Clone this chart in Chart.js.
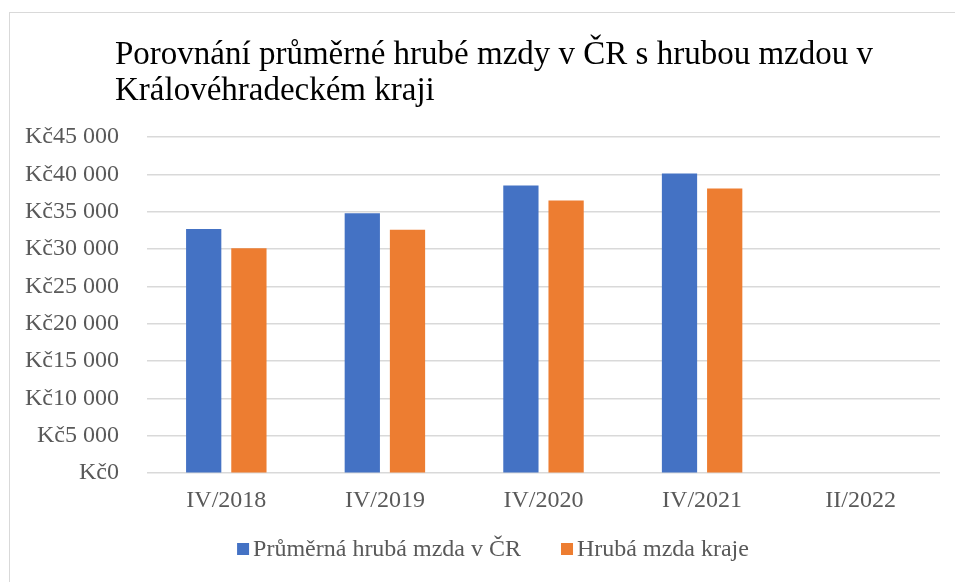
<!DOCTYPE html>
<html>
<head>
<meta charset="utf-8">
<script src="https://cdn.jsdelivr.net/npm/chart.js@4/dist/chart.umd.min.js"></script>
<style>
  html, body { margin: 0; padding: 0; background: #fff; }
  #wrap { position: relative; width: 955px; height: 582px; overflow: hidden; }
  #frame { position: absolute; left: 9px; top: 12px; width: 960px; height: 590px; border: 1px solid #d9d9d9; box-sizing: border-box; }
  #title { position: absolute; left: 115px; top: 35px; font-family: "Liberation Serif", "Times New Roman", serif; font-size: 33px; line-height: 36px; color: #000; }
  #chart { position: absolute; left: 0; top: 0; }
</style>
</head>
<body>
<div id="wrap">
  <div id="frame"></div>
  <canvas id="chart" width="955" height="582"></canvas>
  <div id="title">Porovnání průměrné hrubé mzdy v ČR s hrubou mzdou v<br>Královéhradeckém kraji</div>
</div>
<script>
// data
const categories = ["IV/2018", "IV/2019", "IV/2020", "IV/2021", "II/2022"];
const prumernaCR = [32700, 34800, 38500, 40100, null];
const mzdaKraje = [30100, 32600, 36500, 38100, null];
const seriesNames = ["Průměrná hrubá mzda v ČR", "Hrubá mzda kraje"];

function formatKc(v) {
  return "Kč" + String(v).replace(/\B(?=(\d{3})+(?!\d))/g, " ");
}

const serif = "'Liberation Serif', 'Times New Roman', serif";
const grey = "#595959";

// legend drawn like Excel: small square, tight gap to text, wide gap between items
const excelLegend = {
  id: "excelLegend",
  afterDraw(chart) {
    const ctx = chart.ctx;
    const sets = chart.data.datasets;
    const box = 12, gapText = 4, gapItem = 40, cy = 549;
    ctx.save();
    ctx.font = "24px " + serif;
    const widths = sets.map((d) => ctx.measureText(d.label).width);
    let total = 0;
    widths.forEach((w, i) => { total += box + gapText + w + (i ? gapItem : 0); });
    let x = 493 - total / 2;
    ctx.textBaseline = "middle";
    sets.forEach((d, i) => {
      ctx.fillStyle = d.backgroundColor;
      ctx.fillRect(x, cy - box / 2, box, box);
      x += box + gapText;
      ctx.fillStyle = grey;
      ctx.fillText(d.label, x, cy + 1);
      x += widths[i] + gapItem;
    });
    ctx.restore();
  },
};

new Chart(document.getElementById("chart"), {
  type: "bar",
  data: {
    labels: categories,
    datasets: [
      { label: seriesNames[0], data: prumernaCR, backgroundColor: "#4472C4" },
      { label: seriesNames[1], data: mzdaKraje, backgroundColor: "#ED7D31" },
    ],
  },
  options: {
    responsive: false,
    animation: false,
    layout: { padding: { left: 5, right: 15, top: 137, bottom: 62 } },
    datasets: { bar: { categoryPercentage: 0.57, barPercentage: 0.78 } },
    plugins: {
      title: { display: false },
      tooltip: { enabled: false },
      legend: { display: false },
    },
    scales: {
      x: {
        grid: { display: false },
        border: { display: false },
        ticks: { color: grey, font: { family: serif, size: 24 }, padding: 5 },
      },
      y: {
        min: 0,
        max: 45000,
        afterFit: (s) => { s.width = 142; },
        ticks: {
          stepSize: 5000,
          color: grey,
          font: { family: serif, size: 24 },
          padding: 28,
          callback: (v) => formatKc(v),
        },
        grid: { color: "#d9d9d9", lineWidth: 1.5, drawTicks: false },
        border: { display: false },
      },
    },
  },
  plugins: [excelLegend],
});
</script>
</body>
</html>
